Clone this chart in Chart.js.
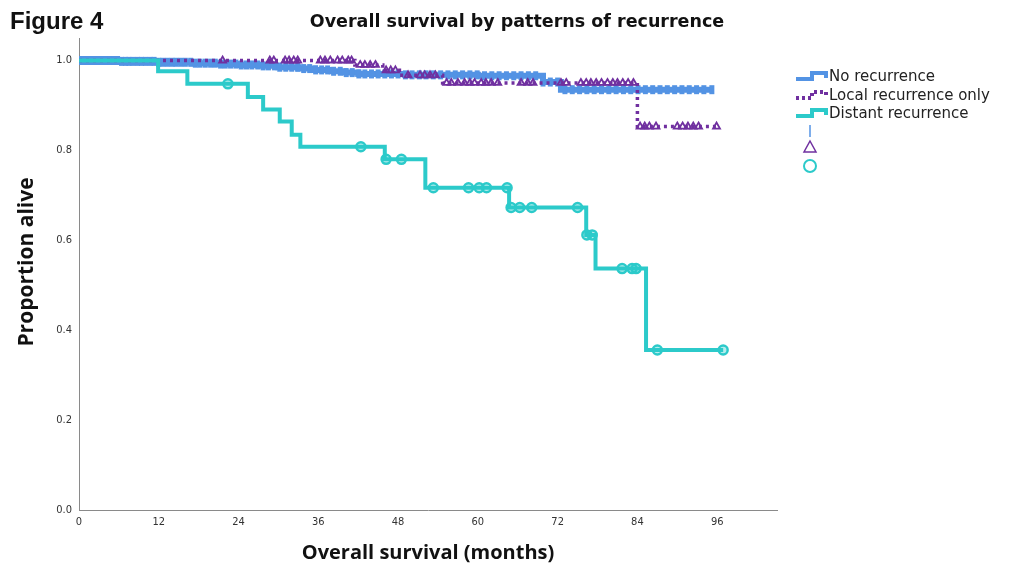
<!DOCTYPE html>
<html>
<head>
<meta charset="utf-8">
<script src="https://cdn.jsdelivr.net/npm/chart.js@4"></script>
<style>
  html, body { margin: 0; padding: 0; background: #fff; }
  #wrap { width: 1010px; height: 565px; }
</style>
</head>
<body>
<div id="wrap"><canvas id="km" width="1010" height="565"></canvas></div>
<script>
// axis ticks
const xTicks = [0, 12, 24, 36, 48, 60, 72, 84, 96];
const yTicks = [0, 0.2, 0.4, 0.6, 0.8, 1.0];

const seriesNames = ['No recurrence', 'Local recurrence only', 'Distant recurrence'];

// No recurrence: step times / survival after the step, censored times
const noTimes = [0, 6, 12, 17, 21, 24, 27, 30, 33, 35.5, 38, 40, 42, 49, 60, 69.8, 72.5, 95.2];
const noSurv  = [1.0, 0.998, 0.996, 0.994, 0.992, 0.990, 0.988, 0.985, 0.982, 0.979, 0.976, 0.973, 0.970, 0.968, 0.966, 0.952, 0.935, 0.935];
const noCensor = [0.3, 0.8, 1.3, 1.9, 2.4, 3.0, 3.5, 4.1, 4.7, 5.2, 5.8, 6.4, 7.0, 7.5, 8.1, 8.8, 9.4, 10.0,
  10.7, 11.3, 12.0, 12.6, 13.3, 14.0, 14.6, 15.3, 16.0, 16.8, 17.5, 18.2, 19.0, 19.8, 20.5, 21.3, 22.0, 22.8,
  23.6, 24.4, 25.2, 26.0, 26.9, 27.7, 28.5, 29.4, 30.2, 31.1, 32.0, 32.9, 33.8, 34.7, 35.6, 36.5, 37.4, 38.3,
  39.3, 40.2, 41.1, 42.1, 43.0, 44.0, 45.0, 46.0, 47.0, 48.0, 49.1, 50.1, 51.2, 52.2, 53.3, 54.4, 55.5, 56.6,
  57.7, 58.8, 59.9, 61.0, 62.1, 63.2, 64.3, 65.4, 66.5, 67.6, 68.7, 69.8, 70.9, 72.0, 73.1, 74.2, 75.3, 76.4,
  77.5, 78.6, 79.7, 80.8, 81.9, 83.0, 84.1, 85.2, 86.3, 87.4, 88.5, 89.6, 90.7, 91.8, 92.9, 94.0, 95.2];

// Local recurrence only
const localTimes = [0, 41.5, 45.7, 48.2, 54.7, 84.0, 96.0];
const localSurv  = [1.0, 0.990, 0.978, 0.967, 0.950, 0.853, 0.853];
const localCensor = [21.6, 28.7, 29.3, 31.0, 31.6, 32.3, 32.9, 36.3, 37.0, 37.8, 38.9, 39.6, 40.5, 41.0,
  42.3, 43.0, 43.8, 44.6, 46.2, 46.9, 47.6, 49.5, 51.3, 52.0, 52.8, 53.6, 55.3, 56.0, 57.0, 58.0, 58.8,
  59.5, 60.5, 61.2, 62.0, 63.0, 66.5, 67.5, 68.3, 72.5, 73.3, 75.5, 76.3, 77.0, 77.8, 78.6, 79.5, 80.3,
  81.0, 81.8, 82.6, 83.4, 84.4, 85.1, 85.8, 86.8, 90.0, 90.8, 91.6, 92.4, 93.2, 95.9];

// Distant recurrence
const distTimes = [0, 11.9, 16.3, 25.4, 27.7, 30.2, 32.0, 33.3, 46.0, 52.1, 64.7, 76.3, 77.7, 85.3, 96.9];
const distSurv  = [1.0, 0.976, 0.948, 0.919, 0.891, 0.864, 0.835, 0.808, 0.780, 0.717, 0.673, 0.612, 0.537, 0.356, 0.356];
const distCensor = [22.4, 42.4, 46.2, 48.5, 53.3, 58.6, 60.2, 61.3, 64.4, 65.0, 66.3, 68.1, 75.0, 76.4,
  77.2, 81.7, 83.2, 83.8, 87.0, 96.9];

const colNo = '#5393e4';
const colLocal = '#7030a0';
const colDist = '#2ccaca';

function survAt(times, surv, t) {
  let s = surv[0];
  for (let i = 0; i < times.length; i++) {
    if (times[i] <= t) s = surv[i];
  }
  return s;
}
function stepPts(times, surv) {
  return times.map((t, i) => ({ x: t, y: surv[i] }));
}
function censorPts(times, surv, cens) {
  return cens.map(t => ({ x: t, y: survAt(times, surv, t) }));
}

function stepIcon(ctx, x, y, color, dashed) {
  ctx.save();
  ctx.strokeStyle = color;
  ctx.lineWidth = 4;
  ctx.setLineDash(dashed ? [3, 3] : []);
  ctx.beginPath();
  ctx.moveTo(x, y + 3);
  ctx.lineTo(x + 16, y + 3);
  ctx.lineTo(x + 16, y - 3);
  ctx.lineTo(x + 30, y - 3);
  ctx.lineTo(x + 30, y + 2);
  ctx.stroke();
  ctx.restore();
}

const extras = {
  id: 'extras',
  afterDraw(chart) {
    const ctx = chart.ctx;
    ctx.save();
    ctx.fillStyle = '#111';
    ctx.textBaseline = 'alphabetic';
    ctx.font = 'bold 24px "Liberation Sans", Arial, sans-serif';
    ctx.textAlign = 'left';
    ctx.fillText('Figure 4', 10, 29);

    ctx.font = 'bold 17.5px "DejaVu Sans", sans-serif';
    ctx.textAlign = 'center';
    ctx.fillText('Overall survival by patterns of recurrence', 517, 27);

    ctx.font = 'bold 20px "Open Sans", sans-serif';
    ctx.fillText('Overall survival (months)', 428, 559);
    ctx.save();
    ctx.translate(33, 262);
    ctx.rotate(-Math.PI / 2);
    ctx.font = 'bold 21px "Open Sans", sans-serif';
    ctx.fillText('Proportion alive', 0, 0);
    ctx.restore();

    // legend
    const lx = 796, tx = 829;
    const rows = [76, 95, 113];
    ctx.font = '15px "DejaVu Sans", sans-serif';
    ctx.textAlign = 'left';
    ctx.textBaseline = 'middle';
    ctx.fillStyle = '#222';
    stepIcon(ctx, lx, rows[0], colNo, false);
    stepIcon(ctx, lx, rows[1], colLocal, true);
    stepIcon(ctx, lx, rows[2], colDist, false);
    seriesNames.forEach((n, i) => ctx.fillText(n, tx, rows[i] + 1));

    ctx.strokeStyle = colNo;
    ctx.lineWidth = 1.5;
    ctx.beginPath();
    ctx.moveTo(810, 125);
    ctx.lineTo(810, 137);
    ctx.stroke();

    ctx.strokeStyle = colLocal;
    ctx.beginPath();
    ctx.moveTo(810, 141);
    ctx.lineTo(816, 152);
    ctx.lineTo(804, 152);
    ctx.closePath();
    ctx.stroke();

    ctx.strokeStyle = colDist;
    ctx.lineWidth = 2;
    ctx.beginPath();
    ctx.arc(810, 166, 6, 0, Math.PI * 2);
    ctx.stroke();
    ctx.restore();
  }
};

new Chart(document.getElementById('km'), {
  type: 'line',
  data: {
    datasets: [
      {
        label: 'Distant censored',
        data: censorPts(distTimes, distSurv, distCensor),
        showLine: false,
        pointStyle: 'circle',
        pointRadius: 4.5,
        pointBorderWidth: 2.5,
        pointBorderColor: colDist,
        pointBackgroundColor: 'rgba(44,202,202,0.35)'
      },
      {
        label: seriesNames[2],
        data: stepPts(distTimes, distSurv),
        stepped: true,
        borderColor: colDist,
        borderWidth: 4,
        pointRadius: 0
      },
      {
        label: 'Local censored',
        data: censorPts(localTimes, localSurv, localCensor),
        showLine: false,
        pointStyle: 'triangle',
        pointRadius: 4,
        pointBorderWidth: 1.8,
        pointBorderColor: colLocal,
        pointBackgroundColor: 'rgba(0,0,0,0)'
      },
      {
        label: seriesNames[1],
        data: stepPts(localTimes, localSurv),
        stepped: true,
        borderColor: colLocal,
        borderWidth: 3.5,
        borderDash: [3, 4],
        pointRadius: 0
      },
      {
        label: 'No recurrence censored',
        data: censorPts(noTimes, noSurv, noCensor),
        showLine: false,
        pointStyle: 'line',
        pointRotation: 90,
        pointRadius: 4.5,
        pointBorderWidth: 5,
        pointBorderColor: colNo
      },
      {
        label: seriesNames[0],
        data: stepPts(noTimes, noSurv),
        stepped: true,
        borderColor: colNo,
        borderWidth: 6,
        pointRadius: 0
      }
    ]
  },
  options: {
    responsive: false,
    animation: false,
    layout: { padding: { left: 0, right: 233, top: 38, bottom: 0 } },
    plugins: {
      legend: { display: false },
      title: { display: false },
      tooltip: { enabled: false }
    },
    scales: {
      x: {
        type: 'linear',
        min: 0,
        max: 105,
        grid: { display: false, drawTicks: false },
        border: { display: true, color: '#8a8a8a', width: 1 },
        afterBuildTicks: s => { s.ticks = xTicks.map(v => ({ value: v })); },
        afterFit: s => { s.height = 55; },
        ticks: {
          padding: 6,
          color: '#333',
          font: { family: '"DejaVu Sans Condensed", "DejaVu Sans", sans-serif', size: 11 },
          callback: v => String(v)
        }
      },
      y: {
        min: 0,
        max: 1.05,
        grid: { display: false, drawTicks: false },
        border: { display: true, color: '#8a8a8a', width: 1 },
        afterBuildTicks: s => { s.ticks = yTicks.map(v => ({ value: v })); },
        afterFit: s => { s.width = 79; },
        ticks: {
          padding: 7,
          color: '#333',
          font: { family: '"DejaVu Sans Condensed", "DejaVu Sans", sans-serif', size: 11 },
          callback: v => Number(v).toFixed(1)
        }
      }
    }
  },
  plugins: [extras]
});
</script>
</body>
</html>
